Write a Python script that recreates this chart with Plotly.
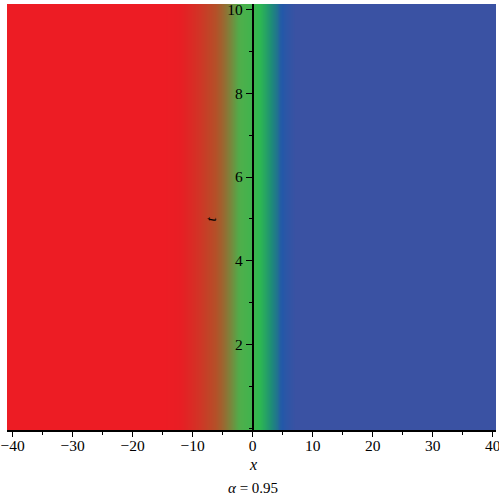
import plotly.graph_objects as go

# x positions (cell centres) and field level u(x) (constant in t)
x_pos = [-42, -15, -13, -11, -9, -7, -5, -3.5, -2.5, 0, 1, 2, 3, 4, 4.5, 5.5, 7, 42]
u_vals = [1.0, 1.0, 0.97, 0.92, 0.86, 0.78, 0.7, 0.62, 0.56, 0.5, 0.45, 0.38, 0.3, 0.2, 0.12, 0.06, 0.0, 0.0]
t_pos = [-1, 11]

x_ticks = [-40, -30, -20, -10, 0, 10, 20, 30, 40]
t_ticks = [2, 4, 6, 8, 10]

colorscale = [
    [0.0, "rgb(58,82,163)"],
    [0.1, "rgb(35,88,168)"],
    [0.3, "rgb(30,140,120)"],
    [0.45, "rgb(45,185,80)"],
    [0.55, "rgb(78,175,75)"],
    [0.75, "rgb(180,80,40)"],
    [0.95, "rgb(232,30,36)"],
    [1.0, "rgb(237,28,36)"],
]

z = [u_vals for _ in t_pos]

fig = go.Figure(go.Heatmap(x=x_pos, y=t_pos, z=z, colorscale=colorscale, zmin=0, zmax=1,
                           zsmooth="best", showscale=False, hoverinfo="skip"))

serif = "Liberation Serif"
x0_frac = (0 - (-40.95)) / (40.55 - (-40.95))

fig.update_layout(
    width=499, height=500,
    margin=dict(l=7, r=3, t=4, b=70, autoexpand=False),
    paper_bgcolor="white", plot_bgcolor="white",
    font=dict(family=serif, size=15, color="black"),
    xaxis=dict(range=[-40.95, 40.55], tickvals=x_ticks, ticks="outside", ticklen=5, tickwidth=1.3,
               tickcolor="black", showline=True, linecolor="black", linewidth=1.5, automargin=False,
               ticklabeloverflow="allow", ticklabelstandoff=-4,
               showgrid=False, zeroline=False, tickfont=dict(family=serif, size=15.5),
               minor=dict(dtick=5, ticks="outside", ticklen=3, tickcolor="black", tickwidth=1.3, showgrid=False)),
    yaxis=dict(range=[-0.04, 10.13], tickvals=t_ticks, ticks="outside", ticklen=6, tickwidth=1.3,
               tickcolor="black", showline=True, linecolor="black", linewidth=1.5, automargin=False,
               anchor="free", position=x0_frac, ticklabeloverflow="allow",
               showgrid=False, zeroline=False, tickfont=dict(family=serif, size=15.5),
               minor=dict(dtick=1, ticks="outside", ticklen=3, tickcolor="black", tickwidth=1.3, showgrid=False)),
    annotations=[
        dict(text="<i>t</i>", x=-7, y=5, xref="x", yref="y", showarrow=False,
             textangle=-90, font=dict(family=serif, size=15)),
        dict(text="<i>x</i>", x=0.5025, y=-0.082, xref="paper", yref="paper", showarrow=False,
             yanchor="middle", font=dict(family=serif, size=16)),
        dict(text="<i>α</i> = 0.95", x=0.5025, y=-0.136, xref="paper", yref="paper", showarrow=False,
             yanchor="middle", font=dict(family=serif, size=15)),
    ],
)

fig.write_html("out.html", config={"displayModeBar": False},
               post_script="document.body.style.margin='0';")
